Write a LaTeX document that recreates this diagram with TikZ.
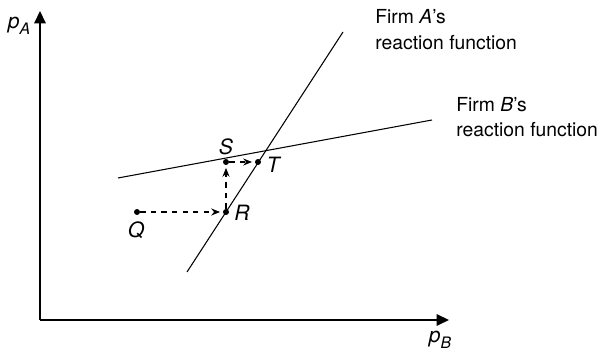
\documentclass[tikz,border=0pt]{standalone}
\usepackage{fontspec}
\setmainfont{TeX Gyre Heros}
\usetikzlibrary{arrows.meta}
\newcommand{\psub}[2]{\textit{#1}\raisebox{-0.55ex}{\small\textit{#2}}}

\begin{document}
\begin{tikzpicture}[font=\fontsize{11}{14.5}\selectfont,
    dot/.style={circle, fill, inner sep=0pt, minimum size=3.4pt},
    axis/.style={line width=0.8pt, -{Triangle[length=7pt, width=6.5pt]}},
    move/.style={dashed, line width=0.6pt, -{Stealth[length=5pt, width=4pt]}, shorten >=1.5pt},
    pt/.style={font=\fontsize{12}{14}\selectfont\itshape}]
      \useasboundingbox (0,0) rectangle (12,7.02);

      % Axes
      \coordinate (O) at (0.8,0.62);
      \coordinate (ytop) at (0.8,6.8);
      \coordinate (xend) at (8.98,0.62);
      \draw[axis] (O) -- (ytop);
      \draw[axis] (O) -- (xend);
      \node[font=\fontsize{12}{14}\selectfont] (pA) at (0.38,6.5) {\psub{p}{A}};
      \node[font=\fontsize{12}{14}\selectfont] (pB) at (8.8,0.22) {\psub{p}{B}};

      % Reaction functions
      \coordinate (a1) at (3.74,1.58);
      \coordinate (a2) at (6.86,6.38);
      \coordinate (b1) at (2.36,3.46);
      \coordinate (b2) at (8.64,4.62);
      \draw[line width=0.6pt] (a1) -- (a2);
      \draw[line width=0.6pt] (b1) -- (b2);
      \node[anchor=west, align=left, inner sep=0pt] (labA) at (7.5,6.43) {Firm \textit{A}'s\\reaction function};
      \node[anchor=west, align=left, inner sep=0pt] (labB) at (9.12,4.68) {Firm \textit{B}'s\\reaction function};

      % Adjustment path Q -> R -> S -> T
      \node[dot] (Q) at (2.74,2.78) {};
      \node[dot] (R) at (4.52,2.78) {};
      \node[dot] (S) at (4.52,3.78) {};
      \node[dot] (T) at (5.16,3.78) {};
      \draw[move] (Q) -- (R);
      \draw[move] (R) -- (S);
      \draw[move] (S) -- (T);
      \node[pt] (labQ) at (2.72,2.42) {Q};
      \node[pt] (labR) at (4.84,2.76) {R};
      \node[pt] (labS) at (4.52,4.08) {S};
      \node[pt] (labT) at (5.46,3.72) {T};
    \end{tikzpicture}
\end{document}
